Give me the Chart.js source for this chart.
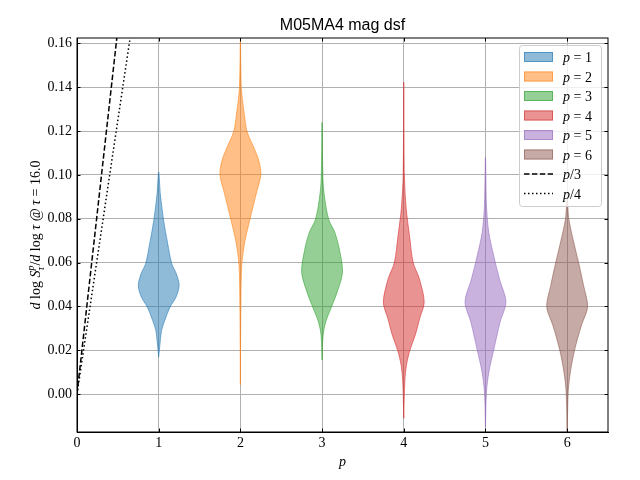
<!DOCTYPE html>
<html>
<head>
<meta charset="utf-8">
<script src="https://cdn.jsdelivr.net/npm/chart.js@4.4.0/dist/chart.umd.min.js"></script>
<style>
  html, body { margin: 0; padding: 0; background: #fff; }
  #wrap { width: 640px; height: 480px; }
</style>
</head>
<body>
<div id="wrap"><canvas id="grafico" width="640" height="480"></canvas></div>
<script>
// Dados (violinos: níveis de y e larguras relativas)
var titleText = 'M05MA4 mag dsf';
var pValues = [1, 2, 3, 4, 5, 6];
var colors = ['31,119,180', '255,127,14', '44,160,44', '214,39,40', '148,103,189', '140,86,75'];

var v1Y = [0.017, 0.0216, 0.029, 0.0337, 0.0398, 0.0443, 0.0497, 0.055, 0.0595, 0.0687, 0.0793, 0.0914, 0.1013];
var v1W = [0, 0.05, 0.14, 0.30, 0.56, 0.85, 1.0, 0.86, 0.64, 0.44, 0.24, 0.08, 0];
var v2Y = [0.0043, 0.0407, 0.059, 0.0696, 0.0794, 0.0923, 0.0999, 0.106, 0.1121, 0.1197, 0.1272, 0.1394, 0.161];
var v2W = [0, 0.025, 0.07, 0.22, 0.46, 0.80, 1.0, 0.92, 0.68, 0.33, 0.20, 0.05, 0];
var v3Y = [0.0155, 0.0269, 0.033, 0.0393, 0.0466, 0.0557, 0.0664, 0.0739, 0.0793, 0.0861, 0.0967, 0.124];
var v3W = [0, 0.05, 0.18, 0.44, 0.74, 1.0, 0.84, 0.62, 0.34, 0.18, 0.05, 0];
var v4Y = [-0.011, 0.0056, 0.0132, 0.02, 0.0269, 0.0345, 0.042, 0.0527, 0.06, 0.0724, 0.0846, 0.10, 0.1423];
var v4W = [0, 0.05, 0.13, 0.30, 0.56, 0.78, 1.0, 0.76, 0.46, 0.28, 0.12, 0.03, 0];
var v5Y = [-0.0149, 0.001, 0.0102, 0.02, 0.033, 0.042, 0.0527, 0.0633, 0.0739, 0.086, 0.108];
var v5W = [0, 0.05, 0.17, 0.40, 0.72, 1.0, 0.68, 0.40, 0.16, 0.05, 0];
var v6Y = [-0.02, 0.001, 0.0102, 0.02, 0.0314, 0.0398, 0.0497, 0.06, 0.0694, 0.08, 0.09];
var v6W = [0, 0.05, 0.16, 0.36, 0.70, 1.0, 0.80, 0.56, 0.32, 0.08, 0];

var violinY = [v1Y, v2Y, v3Y, v4Y, v5Y, v6Y];
var violinW = [v1W, v2W, v3W, v4W, v5W, v6W];

// retas p/3 e p/4
var lineP = [0, 6];
var lineP3 = [0, 2];
var lineP4 = [0, 1.5];

var xTicks = [0, 1, 2, 3, 4, 5, 6];
var yTicks = [0.00, 0.02, 0.04, 0.06, 0.08, 0.10, 0.12, 0.14, 0.16];

var halfWidth = 0.25;
var serif = '"Liberation Serif", "DejaVu Serif", serif';

function violinPoints(p, ys, ws) {
  var pts = [];
  for (var i = 0; i < ys.length; i++) pts.push({ x: p + ws[i] * halfWidth, y: ys[i] });
  for (var j = ys.length - 2; j >= 0; j--) pts.push({ x: p - ws[j] * halfWidth, y: ys[j] });
  return pts;
}

var datasets = [];
pValues.forEach(function (p, k) {
  datasets.push({
    label: 'p = ' + p,
    data: violinPoints(p, violinY[k], violinW[k]),
    showLine: true,
    fill: 'shape',
    backgroundColor: 'rgba(' + colors[k] + ',0.5)',
    borderColor: 'rgba(' + colors[k] + ',0.55)',
    borderWidth: 1,
    pointRadius: 0,
    tension: 0.3
  });
});
datasets.push({
  label: 'p/3',
  data: lineP.map(function (x, i) { return { x: x, y: lineP3[i] }; }),
  showLine: true, fill: false, borderColor: '#000', borderWidth: 1.5,
  borderDash: [5.5, 2.4], pointRadius: 0
});
datasets.push({
  label: 'p/4',
  data: lineP.map(function (x, i) { return { x: x, y: lineP4[i] }; }),
  showLine: true, fill: false, borderColor: '#000', borderWidth: 1.5,
  borderDash: [1.5, 2.5], pointRadius: 0
});

// desenha texto com partes em itálico / sobrescrito
function drawPieces(ctx, pieces, x, y) {
  var cx = x;
  pieces.forEach(function (pc) {
    ctx.font = pc.font;
    if (pc.stack) {
      ctx.fillText(pc.stack[0], cx, y - 6);
      ctx.fillText(pc.stack[1], cx, y + 4);
      cx += Math.max(ctx.measureText(pc.stack[0]).width, ctx.measureText(pc.stack[1]).width);
    } else {
      ctx.fillText(pc.text, cx, y + (pc.dy || 0));
      cx += ctx.measureText(pc.text).width;
    }
  });
  return cx - x;
}
function measurePieces(ctx, pieces) {
  var w = 0;
  pieces.forEach(function (pc) {
    ctx.font = pc.font;
    if (pc.stack) w += Math.max(ctx.measureText(pc.stack[0]).width, ctx.measureText(pc.stack[1]).width);
    else w += ctx.measureText(pc.text).width;
  });
  return w;
}

var it = 'italic 14px ' + serif, up = '14px ' + serif, sm = 'italic 10px ' + serif;

var decor = {
  id: 'decor',
  afterDraw: function (chart) {
    var ctx = chart.ctx, a = chart.chartArea;
    var xs = chart.scales.x, ys = chart.scales.y;
    ctx.save();
    // moldura
    ctx.strokeStyle = '#000';
    ctx.lineWidth = 1;
    ctx.strokeRect(a.left, a.top, a.right - a.left, a.bottom - a.top);
    // marcas para dentro
    ctx.beginPath();
    xTicks.forEach(function (v) {
      var px = Math.round(xs.getPixelForValue(v)) + 0.5;
      ctx.moveTo(px, a.bottom); ctx.lineTo(px, a.bottom - 3.5);
      ctx.moveTo(px, a.top); ctx.lineTo(px, a.top + 3.5);
    });
    yTicks.forEach(function (v) {
      var py = Math.round(ys.getPixelForValue(v)) + 0.5;
      ctx.moveTo(a.left, py); ctx.lineTo(a.left + 3.5, py);
      ctx.moveTo(a.right, py); ctx.lineTo(a.right - 3.5, py);
    });
    ctx.stroke();

    // título
    ctx.fillStyle = '#000';
    ctx.textBaseline = 'alphabetic';
    ctx.textAlign = 'center';
    ctx.font = '16px "Liberation Sans", "DejaVu Sans", sans-serif';
    ctx.fillText(titleText, (a.left + a.right) / 2, 30);

    // rótulo x
    ctx.font = it;
    ctx.fillText('p', (a.left + a.right) / 2, 466);

    // rótulo y
    ctx.textAlign = 'left';
    var yl = [
      { text: 'd', font: it }, { text: ' log ', font: up }, { text: 'S', font: it },
      { stack: ['p', 'τ'], font: sm }, { text: '/', font: up }, { text: 'd', font: it },
      { text: ' log ', font: up }, { text: 'τ', font: it }, { text: ' @ ', font: up },
      { text: 'τ', font: it }, { text: ' = 16.0', font: up }
    ];
    ctx.save();
    ctx.translate(40, (a.top + a.bottom) / 2);
    ctx.rotate(-Math.PI / 2);
    var w = measurePieces(ctx, yl);
    drawPieces(ctx, yl, -w / 2, 0);
    ctx.restore();

    // legenda
    var lx = 519.5, ly = 45.5, lw = 82, lh = 161;
    ctx.beginPath();
    ctx.roundRect(lx, ly, lw, lh, 3);
    ctx.fillStyle = 'rgba(255,255,255,0.8)';
    ctx.fill();
    ctx.strokeStyle = '#cccccc';
    ctx.lineWidth = 1;
    ctx.stroke();
    chart.data.datasets.forEach(function (ds, i) {
      var cy = 57 + i * 19.5;
      if (i < 6) {
        ctx.fillStyle = ds.backgroundColor;
        ctx.fillRect(524, cy - 5, 29, 10);
        ctx.strokeStyle = ds.borderColor;
        ctx.strokeRect(524.5, cy - 4.5, 28, 9);
      } else {
        ctx.beginPath();
        ctx.strokeStyle = '#000';
        ctx.lineWidth = 1.5;
        ctx.setLineDash(ds.borderDash);
        ctx.moveTo(524, cy); ctx.lineTo(553, cy);
        ctx.stroke();
        ctx.setLineDash([]);
        ctx.lineWidth = 1;
      }
      ctx.fillStyle = '#000';
      var pieces = i < 6
        ? [{ text: 'p', font: it }, { text: ' = ' + pValues[i], font: up }]
        : [{ text: 'p', font: it }, { text: (i === 6 ? '/3' : '/4'), font: up }];
      drawPieces(ctx, pieces, 563, cy + 5);
    });
    ctx.restore();
  }
};

var tickFont = { family: serif, size: 14 };

new Chart(document.getElementById('grafico').getContext('2d'), {
  type: 'scatter',
  data: { datasets: datasets },
  options: {
    responsive: false,
    animation: false,
    devicePixelRatio: 1,
    layout: { padding: { left: 0, top: 38, right: 32, bottom: 0 } },
    plugins: { legend: { display: false }, tooltip: { enabled: false } },
    scales: {
      x: {
        type: 'linear', min: 0, max: 6.5, z: 1,
        afterFit: function (s) { s.height = 48; },
        ticks: { stepSize: 1, includeBounds: false, autoSkip: false, maxRotation: 0,
          padding: 3, color: '#000', font: tickFont,
          callback: function (v) { return xTicks.indexOf(v) >= 0 ? String(v) : ''; } },
        grid: { color: '#b0b0b0', lineWidth: 1, drawTicks: false },
        border: { color: '#000', width: 1 }
      },
      y: {
        type: 'linear', min: -0.0173, max: 0.1625, z: 1,
        afterFit: function (s) { s.width = 77; },
        ticks: { stepSize: 0.02, includeBounds: false, autoSkip: false,
          padding: 5, color: '#000', font: tickFont,
          callback: function (v) { return v.toFixed(2); } },
        grid: { color: '#b0b0b0', lineWidth: 1, drawTicks: false },
        border: { color: '#000', width: 1 }
      }
    }
  },
  plugins: [decor]
});
</script>
</body>
</html>
